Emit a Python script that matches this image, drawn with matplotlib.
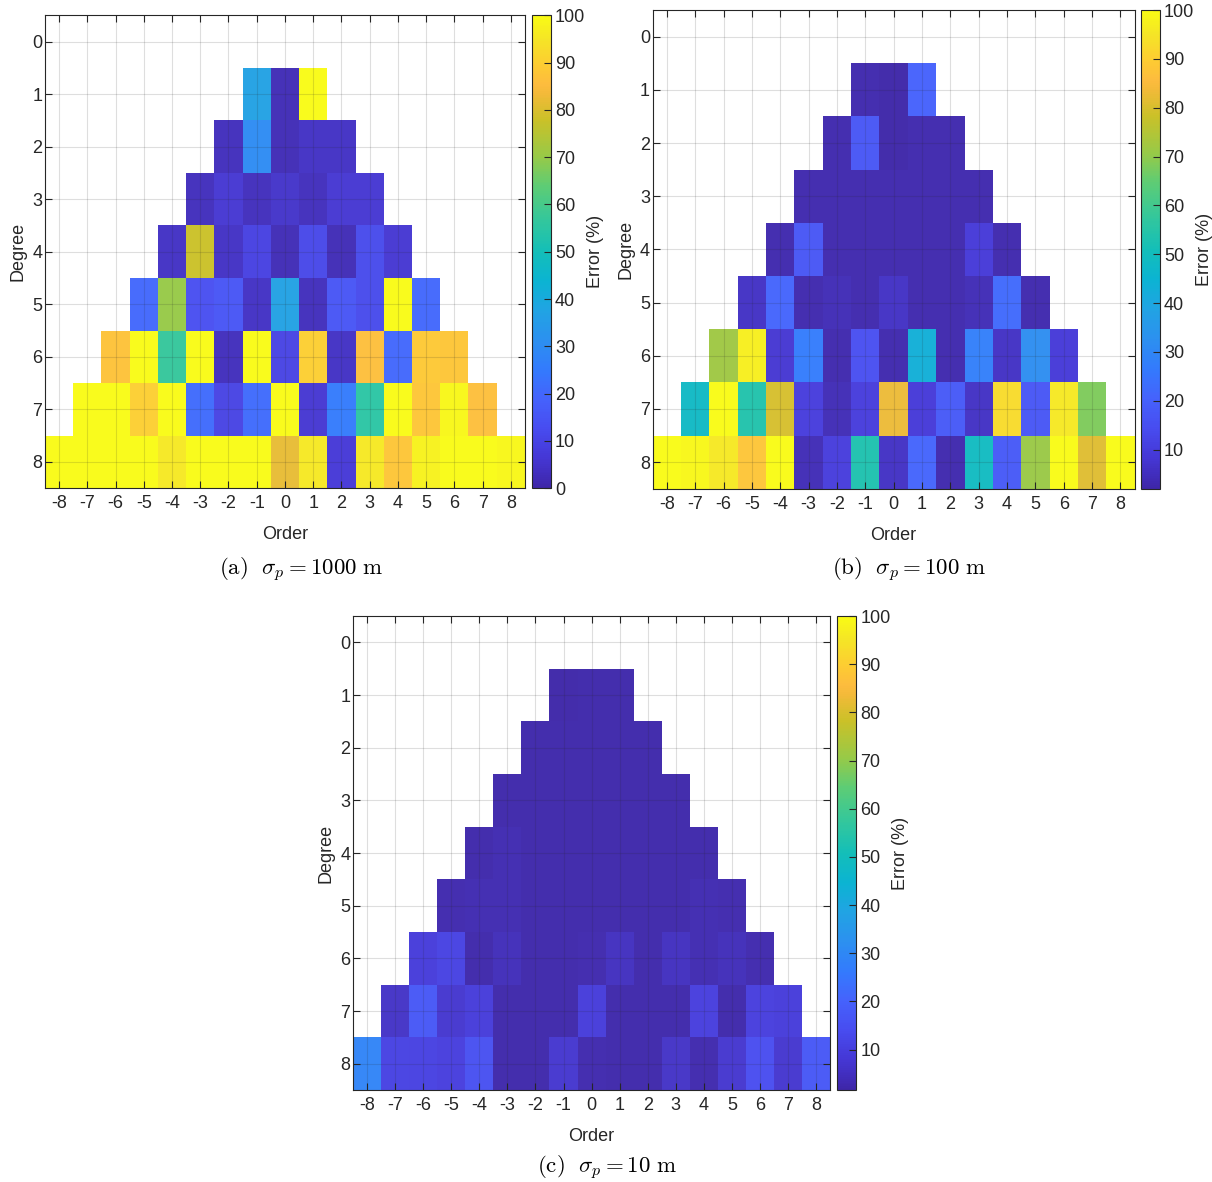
import numpy as np
import matplotlib
matplotlib.use("Agg")
import matplotlib.pyplot as plt
from matplotlib.colors import LinearSegmentedColormap

plt.rcParams['font.family'] = ['Liberation Sans', 'DejaVu Sans']
plt.rcParams['mathtext.fontset'] = 'cm'
plt.rcParams['axes.unicode_minus'] = False

# parula (MATLAB) anchor colours
parula_pos = [0.0, 0.0625, 0.125, 0.1875, 0.25, 0.3125, 0.375, 0.4375, 0.5,
              0.57, 0.64, 0.70, 0.78, 0.835, 0.855, 0.895, 0.95, 1.0]
parula_rgb = [(0.2422, 0.1504, 0.6603), (0.2704, 0.2138, 0.8346), (0.2813, 0.2985, 0.9397),
              (0.2710, 0.3860, 0.9898), (0.2006, 0.4803, 0.9906), (0.1716, 0.5655, 0.9393),
              (0.1288, 0.6408, 0.8910), (0.0433, 0.7039, 0.8242), (0.0770, 0.7468, 0.7224),
              (0.2061, 0.7808, 0.6065), (0.3671, 0.8021, 0.4563), (0.5886, 0.7913, 0.2833),
              (0.7945, 0.7554, 0.1570), (0.9523, 0.7284, 0.2237), (0.9900, 0.7365, 0.2429),
              (0.9938, 0.7974, 0.1974), (0.9601, 0.8963, 0.1507), (0.9769, 0.9839, 0.0805)]
parula = LinearSegmentedColormap.from_list('parula', list(zip(parula_pos, parula_rgb)), N=256)

orders = list(range(-8, 9))
degrees = list(range(0, 9))

# error (%) per degree 1..8, orders -n..n
err_1000 = [
    [37, 2, 100],
    [3, 30, 2, 4, 4],
    [3, 6, 3, 5, 3, 6, 6],
    [4, 78, 4, 9, 2, 11, 2, 12, 6],
    [20, 70, 13, 15, 4, 37, 3, 15, 12, 100, 20],
    [87, 100, 57, 100, 3, 100, 10, 90, 4, 86, 20, 89, 88],
    [100, 100, 90, 100, 21, 10, 21, 100, 6, 25, 55, 100, 88, 99, 86],
    [100, 100, 100, 100, 96, 100, 100, 100, 82, 96, 7, 96, 88, 98, 100, 100, 99],
]
err_100 = [
    [3, 2, 20],
    [3, 17, 2, 3, 3],
    [3, 3, 3, 3, 3, 3, 3],
    [3, 17, 3, 3, 3, 3, 3, 9, 3],
    [6, 21, 3, 4, 3, 6, 3, 3, 4, 22, 3],
    [72, 97, 8, 27, 3, 15, 3, 43, 3, 28, 6, 32, 9],
    [48, 100, 54, 80, 10, 4, 10, 83, 9, 18, 6, 93, 17, 96, 68],
    [100, 99, 96, 88, 100, 4, 10, 53, 6, 21, 3, 49, 18, 71, 100, 81, 100],
]
err_10 = [
    [1.6, 2, 2],
    [2, 2, 2, 2, 2],
    [2, 2, 2, 2, 2, 2, 2],
    [2, 3, 2, 2, 2, 2, 2, 2, 2],
    [2.5, 3, 3, 2, 2, 2, 2, 2, 2, 3, 2.5],
    [9, 11, 2, 4, 2, 2, 2.5, 5, 2, 5, 3, 4, 2.5],
    [6, 17, 7, 9, 2, 2, 2, 9, 2, 2, 2, 10, 2, 10, 9],
    [29, 11, 10.5, 10, 15, 2, 2, 7, 2.5, 2, 2, 6, 2.5, 7, 14, 7, 17],
]


def to_grid(rows):
    grid = np.full((len(degrees), len(orders)), np.nan)
    for n, vals in enumerate(rows, start=1):
        for m, v in zip(range(-n, n + 1), vals):
            grid[n, m + 8] = v
    return grid


panels = [
    (err_1000, r'$\mathrm{(a)}\ \ \sigma_p = 1000\ \mathrm{m}$', [0.0371, 0.587, 0.396, 0.400], 0.4390, True, 0.0695),
    (err_100, r'$\mathrm{(b)}\ \ \sigma_p = 100\ \mathrm{m}$', [0.5385, 0.5865, 0.3977, 0.4050], 0.9415, False, 0.069),
    (err_10, r'$\mathrm{(c)}\ \ \sigma_p = 10\ \mathrm{m}$', [0.2913, 0.0778, 0.3936, 0.4010], 0.6910, False, 0.0655),
]

fig = plt.figure(figsize=(12.12, 11.82), dpi=100)
ink = (0.15, 0.15, 0.15)

for rows, caption, rect, cb_left, zero_min, cap_off in panels:
    grid = to_grid(rows)
    vmin = 0 if zero_min else np.nanmin(grid)
    ax = fig.add_axes(rect)
    xe = np.arange(-8.5, 9.0, 1.0)
    ye = np.arange(-0.5, 9.0, 1.0)
    mesh = ax.pcolormesh(xe, ye, np.ma.masked_invalid(grid), cmap=parula,
                         vmin=vmin, vmax=100, alpha=0.97, linewidth=0)
    ax.set_xlim(-8.5, 8.5)
    ax.set_ylim(8.5, -0.5)
    ax.set_xticks(orders)
    ax.set_xticklabels([str(o) for o in orders])
    ax.set_yticks(degrees)
    ax.set_yticklabels([str(d) for d in degrees])
    ax.set_axisbelow(False)
    ax.grid(True, color=ink, alpha=0.15, linewidth=0.8)
    ax.tick_params(direction='in', top=True, right=True, length=5, width=0.8,
                   colors=ink, labelsize=13, pad=5)
    ax.tick_params(axis='y', pad=2)
    for s in ax.spines.values():
        s.set_color(ink)
        s.set_linewidth(0.8)
    ax.set_xlabel('Order', fontsize=13, color=ink, labelpad=10)
    ax.set_ylabel('Degree', fontsize=13, color=ink, labelpad=4)

    cax = fig.add_axes([cb_left, rect[1], 0.0155, rect[3]])
    cb = fig.colorbar(mesh, cax=cax)
    cb.solids.set_alpha(1)
    cb.set_ticks(list(range(0, 101, 10)) if zero_min else list(range(10, 101, 10)))
    cb.ax.tick_params(direction='in', length=5, width=0.8, colors=ink, labelsize=13, pad=3)
    cb.outline.set_edgecolor(ink)
    cb.outline.set_linewidth(0.8)
    cb.set_label('Error (%)', fontsize=13, color=ink, labelpad=1)

    cx = rect[0] + rect[2] / 2 + 0.013
    fig.text(cx, rect[1] - cap_off, caption, ha='center', va='center', fontsize=16.5)

fig.savefig('out.png', dpi=100)
